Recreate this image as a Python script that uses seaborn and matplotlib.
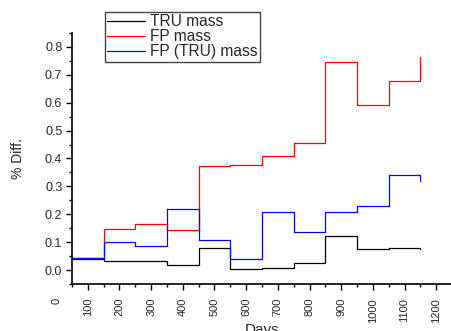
import numpy as np
import pandas as pd
import seaborn as sns
import matplotlib.pyplot as plt
from matplotlib.ticker import MultipleLocator
import matplotlib.transforms as mtransforms

sns.set_style("ticks")
plt.rcParams['font.family'] = ['Liberation Sans', 'DejaVu Sans']

# step edges (days) and values, last point closes the step
days = [50, 150, 250, 350, 450, 550, 650, 750, 850, 950, 1050, 1150]
tru_mass = [0.040, 0.031, 0.031, 0.017, 0.079, 0.005, 0.009, 0.024, 0.122, 0.076, 0.079, 0.077]
fp_mass = [0.045, 0.146, 0.166, 0.144, 0.373, 0.378, 0.408, 0.457, 0.745, 0.593, 0.678, 0.764]
fp_tru_mass = [0.042, 0.101, 0.086, 0.220, 0.107, 0.039, 0.207, 0.135, 0.207, 0.229, 0.342, 0.318]

series = {"TRU mass": tru_mass, "FP mass": fp_mass, "FP (TRU) mass": fp_tru_mass}
colors = {"TRU mass": "black", "FP mass": "#ff0000", "FP (TRU) mass": "#0000ff"}

df = pd.concat([pd.DataFrame({"Days": days, "val": v, "series": k}) for k, v in series.items()])

fig = plt.figure(figsize=(4.52, 3.31), dpi=100)
ax = fig.add_axes([72/452, 1-284/331, 1-72/452, (284-33)/331])

sns.lineplot(data=df, x="Days", y="val", hue="series", palette=colors,
             estimator=None, drawstyle="steps-post", linewidth=0.9, ax=ax, legend=False)

ax.set_xlim(50, 1250)
ax.set_ylim(-0.05, 0.85)
ax.xaxis.set_major_locator(MultipleLocator(100))
ax.xaxis.set_minor_locator(MultipleLocator(50))
ax.yaxis.set_major_locator(MultipleLocator(0.1))
ax.yaxis.set_minor_locator(MultipleLocator(0.05))
ax.yaxis.set_major_formatter(plt.FormatStrFormatter('%.1f'))
ax.tick_params(axis='both', which='major', length=4, width=1, color='black')
ax.tick_params(axis='both', which='minor', length=2.4, width=1, color='black')
ax.tick_params(axis='y', which='major', labelsize=9, pad=3)
ax.tick_params(axis='x', which='major', labelsize=8, labelrotation=90, pad=6)
for lab in ax.get_xticklabels():
    lab.set_va('top')
sns.despine(ax=ax)
for s in ['left', 'bottom']:
    ax.spines[s].set_linewidth(1.2)
    ax.spines[s].set_color('black')

# "0" label sits left of the axis start
trans = mtransforms.blended_transform_factory(ax.transData, ax.transAxes)
t0 = ax.text(0, 0, "0", rotation=90, fontsize=8, ha='center', va='top', clip_on=False)
t0.set_transform(trans + mtransforms.ScaledTranslation(0, -10/72, fig.dpi_scale_trans))

ax.set_xlabel("Days", fontsize=11, labelpad=0)
ax.set_ylabel("% Diff.", fontsize=10, labelpad=14)

handles = [plt.Line2D([], [], color=colors[k], linewidth=0.9) for k in series]
leg = fig.legend(handles, list(series.keys()), loc='upper left',
                 bbox_to_anchor=(105/452, 1-12/331), borderaxespad=0, fancybox=False,
                 framealpha=1, edgecolor='#444444', fontsize=11.2, handlelength=2.4,
                 handletextpad=0.35, labelspacing=0.0, borderpad=0.15)
leg.get_frame().set_linewidth(1.0)

fig.savefig("out.png", dpi=100)
